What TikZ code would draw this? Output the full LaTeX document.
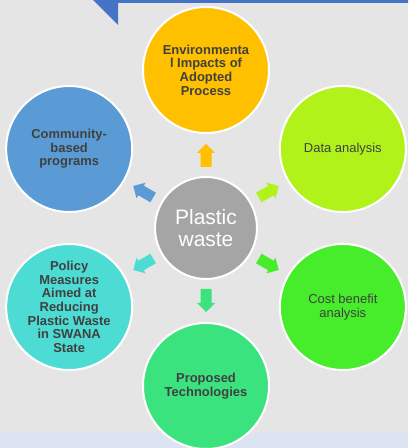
\documentclass[tikz,border=0pt]{standalone}
\usepackage{fontspec}
\setmainfont{Liberation Sans}
\definecolor{bg}{HTML}{E5E5E5}
\definecolor{band}{HTML}{DCE3F2}
\definecolor{topblue}{HTML}{4472C4}
\definecolor{cOrange}{HTML}{FFC000}
\definecolor{cLime}{HTML}{B1F21B}
\definecolor{cGreen}{HTML}{47EC2A}
\definecolor{cEmer}{HTML}{3BE37F}
\definecolor{cCyan}{HTML}{4DDCD4}
\definecolor{cBlue}{HTML}{5B9BD5}
\definecolor{cGray}{HTML}{A5A5A5}
\definecolor{txt}{HTML}{404040}
\tikzset{
  outer/.style={circle, draw=white, line width=2bp, minimum size=126bp, inner sep=0pt, outer sep=0pt},
  inner/.style={circle, draw=white, line width=2bp, minimum size=102bp, inner sep=0pt, outer sep=0pt},
  lblb/.style={align=center, text=txt, font=\fontsize{13}{13.7}\selectfont\bfseries, inner sep=0pt},
  lblr/.style={align=center, text=txt, font=\fontsize{13}{13.7}\selectfont, inner sep=0pt},
}
\begin{document}
\begin{tikzpicture}[x=1bp,y=1bp]
\useasboundingbox (-206,-220) rectangle (202,228);
\clip (-206,-220) rectangle (202,228);
\fill[bg] (-206,-220) rectangle (202,228);
\fill[band] (-206,-220) rectangle (202,-205);
\fill[topblue] (-113,228) -- (-88,203) -- (-88,225) -- (202,225) -- (202,228) -- cycle;

\node[inner, fill=cGray] (c) at (0,0) {};
\node[outer, fill=cOrange] (t) at (90:158) {};
\node[outer, fill=cLime] (tr) at (30:158) {};
\node[outer, fill=cGreen] (br) at (-30:158) {};
\node[outer, fill=cEmer] (b) at (-90:158) {};
\node[outer, fill=cCyan] (bl) at (210:158) {};
\node[outer, fill=cBlue] (tl) at (150:158) {};

\foreach \a/\col in {90/cOrange, 30/cLime, -30/cGreen, -90/cEmer, 210/cCyan, 150/cBlue}
  \fill[\col, rotate=\a] (61,-5.5) -- (75,-5.5) -- (75,-9) -- (84,0) -- (75,9) -- (75,5.5) -- (61,5.5) -- cycle;

\node[align=center, text=white, font=\fontsize{21}{22}\selectfont, inner sep=0pt] (ct) at (c) {Plastic\\waste};
\node[lblb] (tt) at (t) {Environmenta\\l Impacts of\\Adopted\\Process};
\node[lblr] (trt) at (tr) {Data analysis};
\node[lblr] (brt) at (br) {Cost benefit\\analysis};
\node[lblb] (bt) at (b) {Proposed\\Technologies};
\node[lblb] (blt) at (bl) {Policy\\Measures\\Aimed at\\Reducing\\Plastic Waste\\in SWANA\\State};
\node[lblb] (tlt) at (tl) {Community-\\based\\programs};
\end{tikzpicture}
\end{document}
